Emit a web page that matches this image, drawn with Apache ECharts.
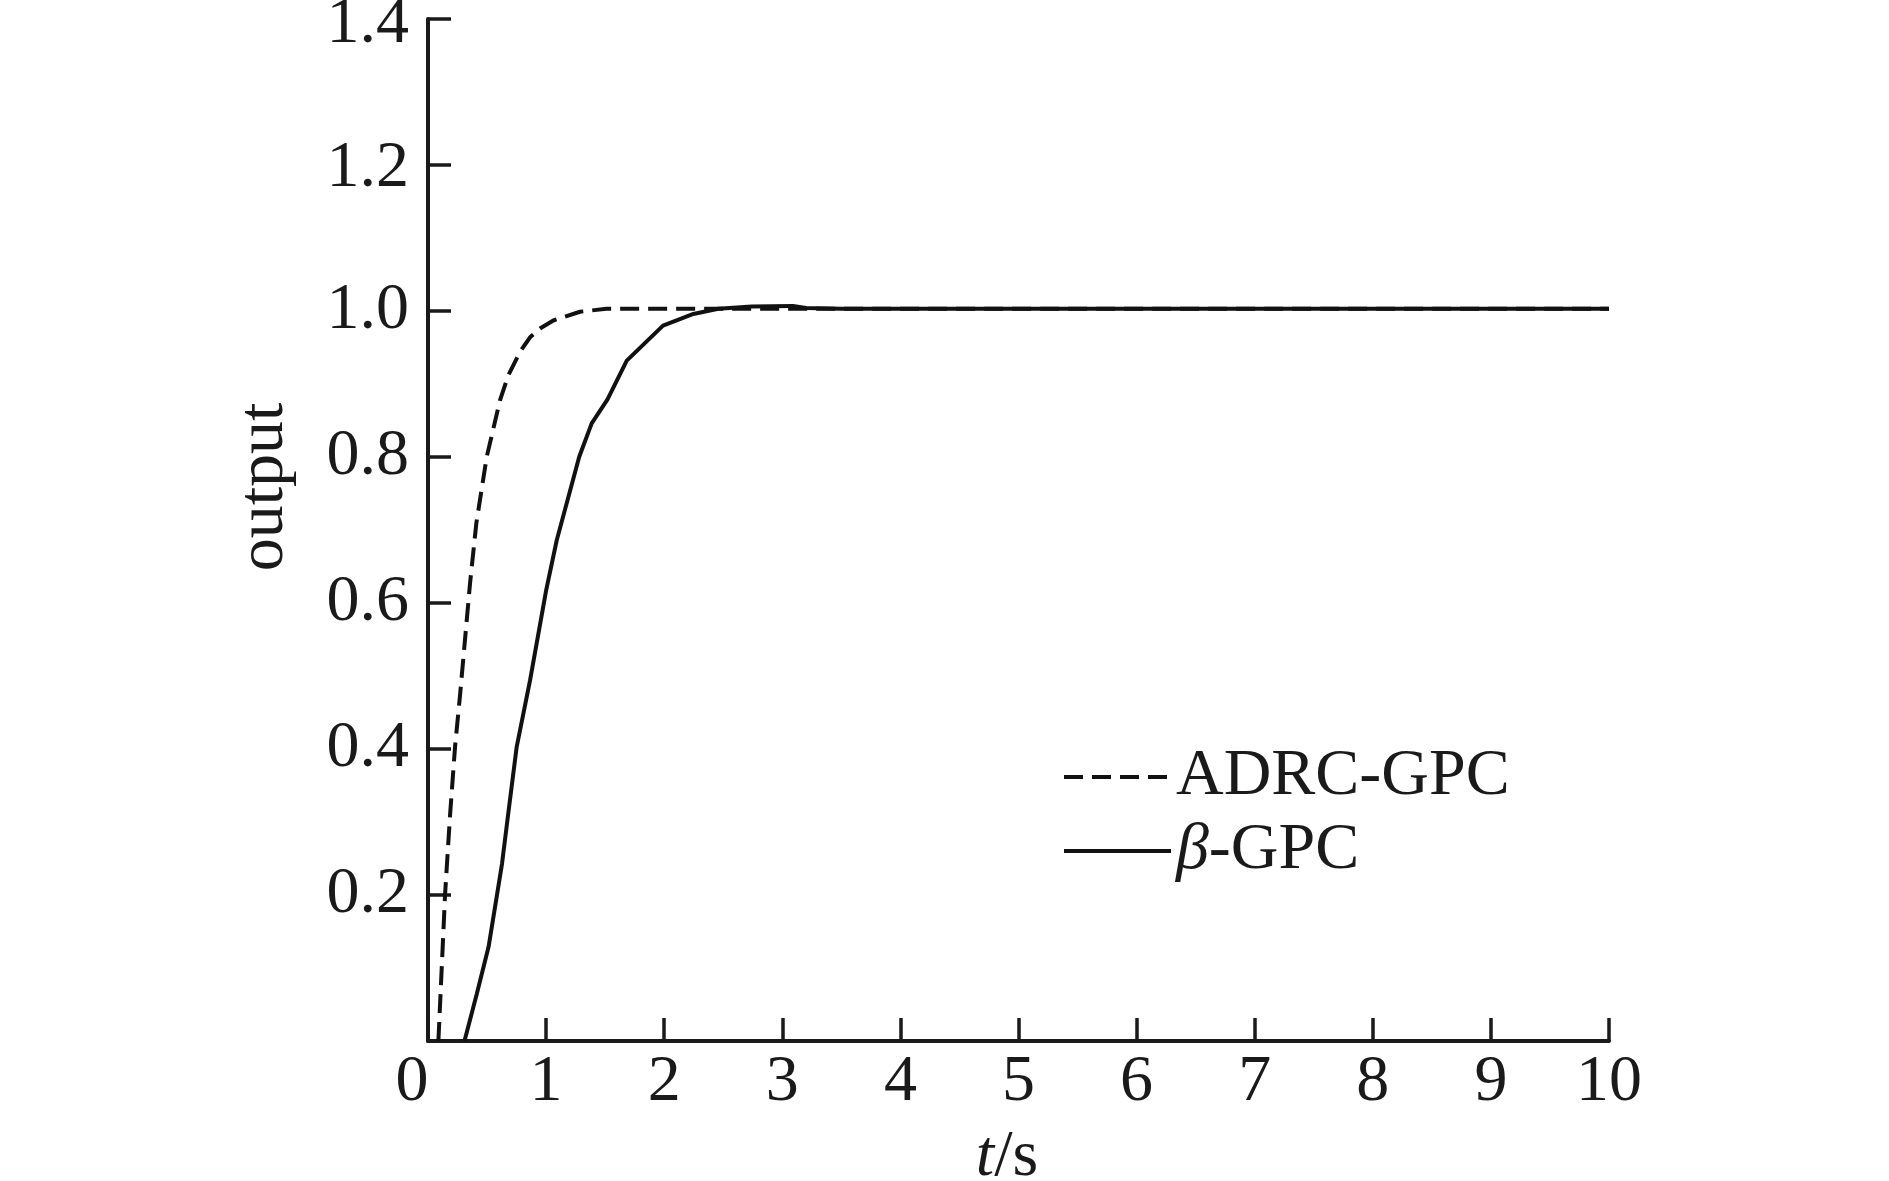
<!DOCTYPE html>
<html>
<head>
<meta charset="utf-8">
<script src="https://cdn.jsdelivr.net/npm/echarts@6/dist/echarts.min.js"></script>
<style>
  html, body { margin: 0; padding: 0; background: #fff; }
  #chart { width: 1889px; height: 1181px; }
</style>
</head>
<body>
<div id="chart"></div>
<script>
// ---- data ----
const seriesNames = ['ADRC-GPC', 'β-GPC'];
const adrcT = [0.088, 0.145, 0.187, 0.229, 0.272, 0.356, 0.409, 0.497, 0.61, 0.68, 0.779, 0.864, 0.948, 1.061, 1.287, 1.51, 10];
const adrcY = [0, 0.202, 0.31, 0.403, 0.475, 0.627, 0.709, 0.8, 0.878, 0.912, 0.944, 0.964, 0.976, 0.987, 0.999, 1.003, 1.003];
const betaT = [0.309, 0.414, 0.513, 0.627, 0.683, 0.751, 0.864, 1.0, 1.09, 1.28, 1.386, 1.52, 1.683, 1.99, 2.247, 2.458, 2.74, 3.09, 3.2, 3.5, 10];
const betaY = [0, 0.065, 0.129, 0.243, 0.316, 0.403, 0.494, 0.617, 0.686, 0.8, 0.846, 0.879, 0.932, 0.980, 0.996, 1.003, 1.006, 1.007, 1.004, 1.003, 1.003];
const xTickLabels = ['0', '1', '2', '3', '4', '5', '6', '7', '8', '9', '10'];
const yTickLabels = ['', '0.2', '0.4', '0.6', '0.8', '1.0', '1.2', '1.4'];
const xName = 't/s';
const yName = 'output';

const FONT = '"Liberation Serif", "Times New Roman", serif';
const FS = 66;

const chart = echarts.init(document.getElementById('chart'), null, { renderer: 'canvas' });

function pairs(t, y) { return t.map((v, i) => [v, y[i]]); }

const labelRich = { fontFamily: FONT, fontSize: FS, lineHeight: 66, color: '#1a1a1a' };

const option = {
  animation: false,
  backgroundColor: '#fff',
  grid: { left: 428, right: 280, top: 19, bottom: 140, containLabel: false, outerBoundsMode: 'none' },
  xAxis: {
    type: 'value', min: 0, max: 10, interval: 1,
    axisLine: { show: true, onZero: false, lineStyle: { color: '#1a1a1a', width: 4 } },
    axisTick: { show: true, inside: true, length: 23, lineStyle: { color: '#1a1a1a', width: 3.5 } },
    splitLine: { show: false },
    axisLabel: {
      margin: 9, color: '#1a1a1a', fontFamily: FONT, fontSize: FS, lineHeight: 66,
      formatter: function (v) {
        const s = xTickLabels[Math.round(v)];
        return Math.round(v) === 0 ? '{z|' + s + '}' : s;
      },
      rich: { z: Object.assign({ padding: [0, 32, 0, 0] }, labelRich) }
    }
  },
  yAxis: {
    type: 'value', min: 0, max: 1.4, interval: 0.2,
    axisLine: { show: true, onZero: false, lineStyle: { color: '#1a1a1a', width: 4 } },
    axisTick: { show: true, inside: true, length: 23, lineStyle: { color: '#1a1a1a', width: 3.5 } },
    splitLine: { show: false },
    axisLabel: {
      margin: 19, color: '#1a1a1a', fontFamily: FONT, fontSize: FS, lineHeight: 66,
      formatter: function (v) {
        const i = Math.round(v / 0.2);
        const s = yTickLabels[i];
        if (i === 7) return '{a|' + s + '}';
        if (i === 6) return '{b|' + s + '}';
        return s;
      },
      rich: {
        a: Object.assign({ padding: [12, 0, 0, 0] }, labelRich),
        b: Object.assign({ padding: [8, 0, 0, 0] }, labelRich)
      }
    }
  },
  legend: {
    orient: 'vertical', left: 1057, top: 739,
    itemWidth: 107, itemHeight: 1, itemGap: 8,
    lineStyle: { width: 4 },
    itemStyle: { opacity: 0 },
    textStyle: { color: '#1a1a1a', fontFamily: FONT, fontSize: FS, lineHeight: 66,
      rich: { i: Object.assign({ fontStyle: 'italic' }, labelRich), n: labelRich } },
    formatter: function (name) {
      if (name.charAt(0) === 'β') return '{i|β}{n|' + name.slice(1) + '}';
      return name;
    },
    data: seriesNames
  },
  series: [
    {
      name: seriesNames[0], type: 'line', data: pairs(adrcT, adrcY),
      symbol: 'none', showSymbol: false, smooth: false,
      lineStyle: { color: '#111', width: 4, type: [19, 9], cap: 'butt' },
      itemStyle: { color: '#111' }
    },
    {
      name: seriesNames[1], type: 'line', data: pairs(betaT, betaY),
      symbol: 'none', showSymbol: false, smooth: false,
      lineStyle: { color: '#111', width: 4, type: 'solid' },
      itemStyle: { color: '#111' }
    }
  ],
  graphic: [
    {
      type: 'text', x: 265, y: 487, rotation: Math.PI / 2,
      style: { text: yName, fill: '#1a1a1a', font: FS + 'px ' + FONT,
        align: 'center', verticalAlign: 'middle', textAlign: 'center', textVerticalAlign: 'middle' }
    },
    {
      type: 'text', x: 1007, y: 1158,
      style: { text: '{i|t}{n|/s}', fill: '#1a1a1a', font: FS + 'px ' + FONT,
        align: 'center', verticalAlign: 'middle', textAlign: 'center', textVerticalAlign: 'middle',
        rich: { i: { fontFamily: FONT, fontSize: FS, fontStyle: 'italic', fill: '#1a1a1a', color: '#1a1a1a' },
                n: { fontFamily: FONT, fontSize: FS, fill: '#1a1a1a', color: '#1a1a1a' } } }
    }
  ]
};
chart.setOption(option);
</script>
</body>
</html>
